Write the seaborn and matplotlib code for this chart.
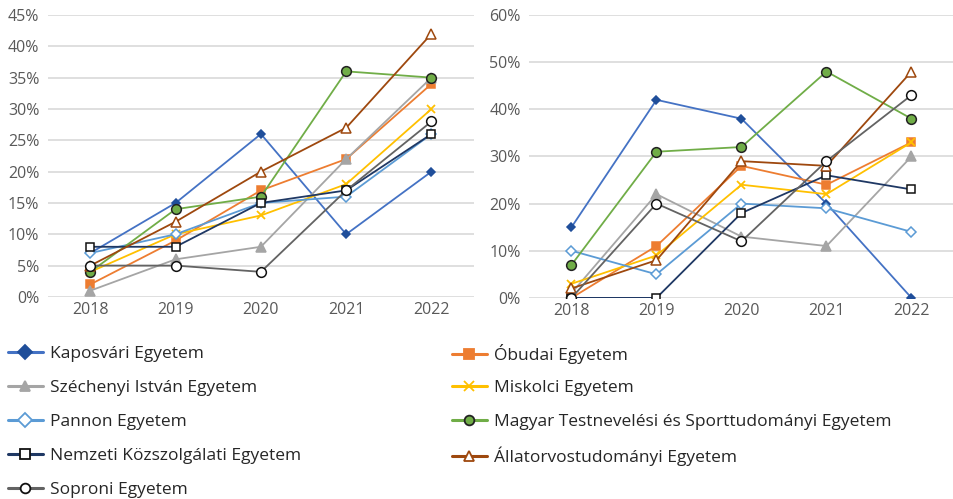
import pandas as pd
import matplotlib.pyplot as plt
import seaborn as sns
from matplotlib.lines import Line2D
from matplotlib.ticker import PercentFormatter

years = [2018, 2019, 2020, 2021, 2022]
names = ["Kaposvári Egyetem", "Óbudai Egyetem", "Széchenyi István Egyetem", "Miskolci Egyetem",
         "Pannon Egyetem", "Magyar Testnevelési és Sporttudományi Egyetem",
         "Nemzeti Közszolgálati Egyetem", "Állatorvostudományi Egyetem", "Soproni Egyetem"]

# left chart (percent)
left_kaposvar = [7, 15, 26, 10, 20]
left_obuda = [2, 9, 17, 22, 34]
left_szechenyi = [1, 6, 8, 22, 35]
left_miskolc = [4, 10, 13, 18, 30]
left_pannon = [7, 10, 15, 16, 26]
left_mtse = [4, 14, 16, 36, 35]
left_nke = [8, 8, 15, 17, 26]
left_allatorvos = [5, 12, 20, 27, 42]
left_sopron = [5, 5, 4, 17, 28]

# right chart (percent)
right_kaposvar = [15, 42, 38, 20, 0]
right_obuda = [0, 11, 28, 24, 33]
right_szechenyi = [1, 22, 13, 11, 30]
right_miskolc = [3, 9, 24, 22, 33]
right_pannon = [10, 5, 20, 19, 14]
right_mtse = [7, 31, 32, 48, 38]
right_nke = [0, 0, 18, 26, 23]
right_allatorvos = [2, 8, 29, 28, 48]
right_sopron = [0, 20, 12, 29, 43]

left_data = [left_kaposvar, left_obuda, left_szechenyi, left_miskolc, left_pannon,
             left_mtse, left_nke, left_allatorvos, left_sopron]
right_data = [right_kaposvar, right_obuda, right_szechenyi, right_miskolc, right_pannon,
              right_mtse, right_nke, right_allatorvos, right_sopron]

# style per series: line colour, marker, size, face, edge
styles = [
    ("#4472C4", "D", 4, "#1F4E9A", "#1F4E9A"),
    ("#ED7D31", "s", 5.5, "#ED7D31", "#ED7D31"),
    ("#A5A5A5", "^", 6.5, "#A5A5A5", "#A5A5A5"),
    ("#FFC000", "x", 6, "#FFC000", "#FFC000"),
    ("#5B9BD5", "D", 5, "white", "#5B9BD5"),
    ("#70AD47", "o", 7, "#70AD47", "#222222"),
    ("#1F3864", "s", 5.5, "white", "#111111"),
    ("#9E480E", "^", 7, "white", "#9E480E"),
    ("#636363", "o", 7, "white", "#111111"),
]

sns.set_theme(style="white")
plt.rcParams['font.family'] = ['Open Sans', 'DejaVu Sans']
text_col = "#595959"

fig = plt.figure(figsize=(9.54, 4.99), dpi=100)
ax1 = fig.add_axes([0.050, 0.405, 0.447, 0.565])
ax2 = fig.add_axes([0.5545, 0.403, 0.4455, 0.567])


def draw(ax, data, ymax, step):
    for vals, st in zip(data, styles):
        df = pd.DataFrame({"year": range(len(years)), "v": vals})
        sns.lineplot(data=df, x="year", y="v", ax=ax, color=st[0], marker=st[1],
                     markersize=st[2], markerfacecolor=st[3], markeredgecolor=st[4],
                     markeredgewidth=1.1 if st[1] != "x" else 1.3, linewidth=1.3, zorder=3)
    ax.set_xlim(-0.5, len(years) - 0.5)
    ax.set_ylim(0, ymax)
    ax.set_yticks(range(0, ymax + 1, step))
    ax.yaxis.set_major_formatter(PercentFormatter(decimals=0))
    ax.set_xticks(range(len(years)))
    ax.set_xticklabels([str(y) for y in years])
    ax.grid(axis="y", color="#D9D9D9", linewidth=1.2, zorder=0)
    ax.set_axisbelow(True)
    for s in ax.spines.values():
        s.set_visible(False)
    ax.tick_params(axis="both", length=0, labelsize=11.5, labelcolor=text_col, pad=6)
    ax.tick_params(axis="x", pad=4)
    ax.set(xlabel="", ylabel="")


draw(ax1, left_data, 45, 5)
draw(ax2, right_data, 60, 10)

# legend: one entry per row, two columns (row-wise order like the original)
fig_h = 499.0
for i, (name, st) in enumerate(zip(names, styles)):
    row, col = divmod(i, 2)
    h = Line2D([], [], color=st[0], marker=st[1], markersize=7,
               markerfacecolor=st[3], markeredgecolor=st[4], linewidth=2.2,
               markeredgewidth=1.3)
    y = 1 - (354 + 34 * row) / fig_h
    x = 8 / 954 if col == 0 else 452 / 954
    leg = fig.legend([h], [name], loc="center left", bbox_to_anchor=(x, y),
                     frameon=False, fontsize=12.5, handlelength=2.0,
                     handletextpad=0.4, borderpad=0, borderaxespad=0)
    leg.get_texts()[0].set_color("#262626")

fig.savefig("out.png", dpi=100)
